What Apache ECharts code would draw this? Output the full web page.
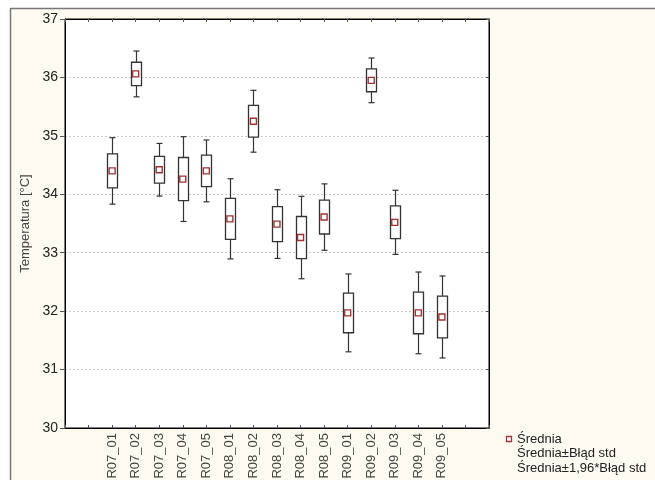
<!DOCTYPE html>
<html>
<head>
<meta charset="utf-8">
<script src="https://cdn.jsdelivr.net/npm/echarts@6/dist/echarts.min.js"></script>
<style>
html,body{margin:0;padding:0;background:#fff;}
#chart{width:655px;height:480px;}
</style>
</head>
<body>
<div id="chart"></div>
<script>
// Data
const categories = ['R07_01','R07_02','R07_03','R07_04','R07_05','R08_01','R08_02','R08_03','R08_04','R08_05','R09_01','R09_02','R09_03','R09_04','R09_05'];
const means = [34.40, 36.06, 34.42, 34.26, 34.40, 33.58, 35.25, 33.49, 33.26, 33.61, 31.97, 35.95, 33.52, 31.97, 31.90];
const stdErr = [0.29, 0.20, 0.23, 0.37, 0.27, 0.35, 0.27, 0.30, 0.36, 0.29, 0.34, 0.195, 0.28, 0.357, 0.358];
const yTicks = [30, 31, 32, 33, 34, 35, 36, 37];
const legendLabels = ['Średnia', 'Średnia±Błąd std', 'Średnia±1,96*Błąd std'];
const yTitle = 'Temperatura [°C]';

const offset = 2; // first category sits on the 3rd tick
const xMax = categories.length + 2 * offset - 1;
const boxData = categories.map((c, i) => [i + offset, means[i], stdErr[i]]);
const meanData = categories.map((c, i) => [i + offset, means[i]]);

const chart = echarts.init(document.getElementById('chart'), null, {renderer: 'canvas'});
const FONT = 'Liberation Sans';

const option = {
  backgroundColor: '#fdfaf1',
  animation: false,
  grid: {left: 65, top: 19, right: 166, bottom: 52, outerBoundsMode: 'none', containLabel: false,
    show: true, backgroundColor: '#ffffff', borderColor: '#000', borderWidth: 1},
  xAxis: [{
    type: 'value', min: 0, max: xMax, interval: 1,
    position: 'bottom',
    axisLine: {show: true, onZero: false, lineStyle: {color: '#000', width: 1}},
    axisTick: {show: true, inside: true, length: 3, lineStyle: {color: '#555'}},
    axisLabel: {
      rotate: 90, margin: 5, fontFamily: FONT, fontSize: 13, color: '#444',
      formatter: v => categories[v - offset] || ''
    },
    splitLine: {show: false}
  }, {
    type: 'value', min: 0, max: xMax, interval: 1,
    position: 'top',
    axisLine: {show: true, onZero: false, lineStyle: {color: '#000', width: 1}},
    axisTick: {show: true, inside: true, length: 3, lineStyle: {color: '#555'}},
    axisLabel: {show: false},
    splitLine: {show: false}
  }],
  yAxis: [{
    type: 'value', min: yTicks[0], max: yTicks[yTicks.length - 1], interval: 1,
    position: 'left',
    name: yTitle, nameLocation: 'middle', nameGap: 32,
    nameTextStyle: {fontFamily: FONT, fontSize: 13, color: '#444'},
    axisLine: {show: true, onZero: false, lineStyle: {color: '#000', width: 1}},
    axisTick: {show: true, inside: false, length: 5, lineStyle: {color: '#555'}},
    axisLabel: {fontFamily: FONT, fontSize: 14, color: '#222', margin: 7},
    splitLine: {show: true, lineStyle: {color: '#c8c8c8', type: [2, 2], width: 1}}
  }, {
    type: 'value', min: yTicks[0], max: yTicks[yTicks.length - 1], interval: 1,
    position: 'right',
    axisLine: {show: true, onZero: false, lineStyle: {color: '#000', width: 1}},
    axisTick: {show: true, inside: true, length: 3, lineStyle: {color: '#555'}},
    axisLabel: {show: false},
    splitLine: {show: false}
  }],
  series: [{
    type: 'custom',
    name: 'box',
    xAxisIndex: 0, yAxisIndex: 0,
    data: boxData,
    renderItem: function (params, api) {
      const x = api.value(0), m = api.value(1), s = api.value(2);
      const c = api.coord([x, m]);
      const cx = Math.round(c[0]) + 0.5;
      const bTop = api.coord([x, m + s])[1];
      const bBot = api.coord([x, m - s])[1];
      const wTop = api.coord([x, m + 1.96 * s])[1];
      const wBot = api.coord([x, m - 1.96 * s])[1];
      const hw = 5, cw = 3;
      const ls = {stroke: '#333', lineWidth: 1.2};
      return {
        type: 'group',
        children: [
          {type: 'line', shape: {x1: cx, y1: wTop, x2: cx, y2: bTop}, style: ls},
          {type: 'line', shape: {x1: cx, y1: bBot, x2: cx, y2: wBot}, style: ls},
          {type: 'line', shape: {x1: cx - cw, y1: wTop, x2: cx + cw, y2: wTop}, style: ls},
          {type: 'line', shape: {x1: cx - cw, y1: wBot, x2: cx + cw, y2: wBot}, style: ls},
          {type: 'rect', shape: {x: cx - hw, y: bTop, width: 2 * hw, height: bBot - bTop},
            style: {fill: '#fff', stroke: '#333', lineWidth: 1.3}}
        ]
      };
    },
    z: 2
  }, {
    type: 'scatter',
    name: 'Średnia',
    xAxisIndex: 0, yAxisIndex: 0,
    data: meanData,
    symbol: 'rect',
    symbolSize: 6,
    itemStyle: {color: '#fff', borderColor: '#a03333', borderWidth: 1.4, opacity: 1},
    z: 5
  }],
  graphic: [
    {type: 'rect', shape: {x: 0, y: 0, width: 655, height: 8}, style: {fill: '#ffffff'}, z: 100},
    {type: 'rect', shape: {x: 0, y: 0, width: 10, height: 480}, style: {fill: '#ffffff'}, z: 100},
    {type: 'line', shape: {x1: 10, y1: 8.5, x2: 655, y2: 8.5}, style: {stroke: '#777', lineWidth: 1.5}, z: 101},
    {type: 'line', shape: {x1: 10.5, y1: 8, x2: 10.5, y2: 480}, style: {stroke: '#777', lineWidth: 1.5}, z: 101},
    {type: 'rect', shape: {x: 506.5, y: 436.5, width: 5, height: 5}, style: {fill: '#fff', stroke: '#a03333', lineWidth: 1.3}, z: 101},
    {type: 'text', x: 517, y: 439, style: {text: legendLabels[0], fontFamily: FONT, fontSize: 13, fill: '#222', verticalAlign: 'middle'}, z: 101},
    {type: 'text', x: 517, y: 453, style: {text: legendLabels[1], fontFamily: FONT, fontSize: 13, fill: '#222', verticalAlign: 'middle'}, z: 101},
    {type: 'text', x: 517, y: 468, style: {text: legendLabels[2], fontFamily: FONT, fontSize: 13, fill: '#222', verticalAlign: 'middle'}, z: 101}
  ]
};
chart.setOption(option);
</script>
</body>
</html>
